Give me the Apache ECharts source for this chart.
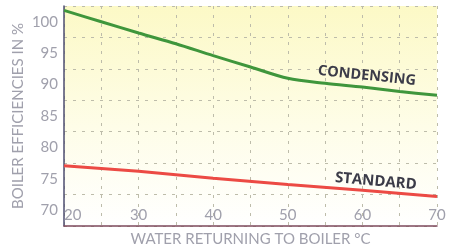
<!DOCTYPE html>
<html>
<head>
<meta charset="utf-8">
<script src="https://cdn.jsdelivr.net/npm/echarts@6/dist/echarts.min.js"></script>
<style>
html,body{margin:0;padding:0;background:#fff;}
#c{width:453px;height:252px;}
</style>
</head>
<body>
<div id="c"></div>
<script>
// Data
const temps = [20, 25, 30, 35, 40, 45, 50, 55, 60, 65, 70];
const condensing = [101.8, 100.0, 98.2, 96.5, 94.6, 92.8, 91.0, 90.2, 89.6, 88.9, 88.3];
const standardTemps = [20, 30, 40, 50, 60, 70];
const standard = [77.1, 76.2, 75.1, 74.1, 73.2, 72.2];
const yTickLabels = [70, 75, 80, 85, 90, 95, 100];
const xTickLabels = [20, 30, 40, 50, 60, 70];
const seriesNames = ['CONDENSING', 'STANDARD'];
const labelAnchors = { CONDENSING: [60.6, 91.4], STANDARD: [61.8, 74.6] };

const chart = echarts.init(document.getElementById('c'));
const gray = '#a0a0ac';
const font = 'Lato, "Open Sans", sans-serif';

chart.setOption({
  animation: false,
  grid: {
    left: 64, right: 16, top: 6, bottom: 24,
    show: true,
    borderWidth: 0,
    backgroundColor: {
      type: 'linear', x: 0, y: 0, x2: 0, y2: 1,
      colorStops: [
        { offset: 0, color: '#fcf9c6' },
        { offset: 0.55, color: '#fefde8' },
        { offset: 1, color: '#ffffff' }
      ]
    }
  },
  xAxis: {
    type: 'value', min: 20, max: 70, interval: 5,
    name: 'WATER RETURNING TO BOILER °C',
    nameLocation: 'middle', nameGap: 6,
    nameTextStyle: { color: gray, fontSize: 15, fontFamily: font },
    axisLine: { show: true, lineStyle: { color: '#7d4a5c', width: 1.5 } },
    axisTick: { show: false },
    splitLine: { show: true, lineStyle: { type: [3, 6], color: '#bdbcaa', width: 1 } },
    axisLabel: {
      inside: true, margin: 3, color: gray, fontSize: 15, fontFamily: font,
      alignMinLabel: 'left',
      formatter: v => (xTickLabels.indexOf(Math.round(v)) >= 0 ? String(Math.round(v)) : '')
    }
  },
  yAxis: [
    {
      type: 'value', min: 67.5, max: 102.5, interval: 5,
      name: 'BOILER EFFICIENCIES IN %',
      nameLocation: 'middle', nameGap: 38,
      nameTextStyle: { color: gray, fontSize: 15, fontFamily: font },
      axisLine: { show: true, lineStyle: { color: '#4e4e70', width: 1.5 } },
      axisTick: { show: false },
      axisLabel: { show: false },
      splitLine: { show: true, lineStyle: { type: [3, 6], color: '#bdbcaa', width: 1 } }
    },
    {
      type: 'value', min: 67.5, max: 102.5, interval: 2.5, position: 'left',
      axisLine: { show: false }, axisTick: { show: false }, splitLine: { show: false },
      axisLabel: {
        margin: 6, color: gray, fontSize: 15, fontFamily: font,
        formatter: v => {
          const r = Math.round(v * 10) / 10;
          return yTickLabels.indexOf(r) >= 0 ? String(r) : '';
        }
      }
    }
  ],
  series: [
    {
      name: seriesNames[0], type: 'line', smooth: 0.3, showSymbol: false,
      data: temps.map((t, i) => [t, condensing[i]]),
      lineStyle: { color: '#3f963c', width: 3 },
      markPoint: {
        symbol: 'circle', symbolSize: 0,
        data: [{ coord: labelAnchors.CONDENSING }],
        label: {
          show: true, position: 'inside', formatter: seriesNames[0], rotate: -6,
          color: '#3b3b48', fontSize: 14.5, fontWeight: 'bold', fontFamily: '"Open Sans", sans-serif'
        }
      }
    },
    {
      name: seriesNames[1], type: 'line', showSymbol: false,
      data: standardTemps.map((t, i) => [t, standard[i]]),
      lineStyle: { color: '#ec4a44', width: 3 },
      markPoint: {
        symbol: 'circle', symbolSize: 0,
        data: [{ coord: labelAnchors.STANDARD }],
        label: {
          show: true, position: 'inside', formatter: seriesNames[1], rotate: -5,
          color: '#3b3b48', fontSize: 15, fontWeight: 'bold', fontFamily: '"Open Sans", sans-serif'
        }
      }
    }
  ]
});
</script>
</body>
</html>
